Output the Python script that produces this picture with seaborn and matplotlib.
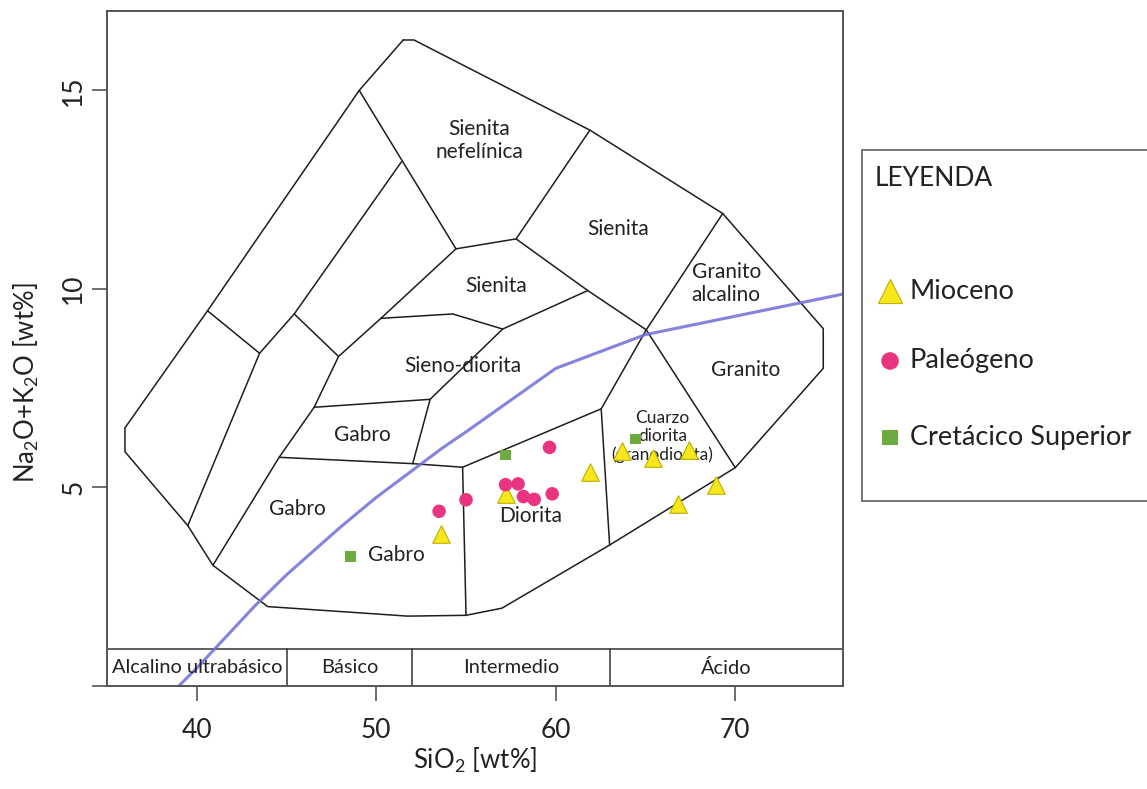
import matplotlib
matplotlib.use("Agg")
import matplotlib.pyplot as plt
import seaborn as sns
import pandas as pd

# puntos de muestras (SiO2, Na2O+K2O)
mioceno_x = [53.6, 57.2, 61.9, 63.7, 65.4, 67.4, 68.9, 66.8]
mioceno_y = [3.82, 4.84, 5.39, 5.92, 5.75, 5.95, 5.05, 4.59]
paleogeno_x = [53.5, 55.0, 57.2, 57.9, 58.2, 58.8, 59.8, 59.65]
paleogeno_y = [4.40, 4.69, 5.07, 5.09, 4.77, 4.70, 4.84, 6.01]
cretacico_x = [48.55, 57.2, 64.45]
cretacico_y = [3.26, 5.82, 6.22]

# linea alcalino / subalcalino (Irvine y Baragar)
ib_x = [39.0, 40.0, 43.2, 45.0, 48.0, 50.0, 53.7, 55.0, 60.0, 65.0, 76.0]
ib_y = [0.0, 0.45, 2.0, 2.8, 4.0, 4.75, 6.0, 6.4, 8.0, 8.85, 9.87]

outer = [(51.5, 16.27), (52.1, 16.27), (61.9, 14.0), (69.3, 11.9), (74.9, 9.0),
         (74.9, 8.0), (70.0, 5.5), (63.0, 3.55), (57.0, 1.96), (55.0, 1.78),
         (51.75, 1.76), (43.95, 2.0), (40.9, 3.04), (39.5, 4.04), (36.0, 5.9),
         (36.0, 6.5), (40.6, 9.45), (49.05, 15.0), (51.5, 16.27)]
inner_lines = [
    [(40.6, 9.45), (43.5, 8.38)],
    [(51.4, 13.2), (45.43, 9.37), (43.5, 8.38), (39.5, 4.04)],
    [(45.43, 9.37), (47.9, 8.3)],
    [(49.05, 15.0), (54.44, 11.01), (50.26, 9.26), (47.9, 8.3), (46.54, 7.02),
     (44.59, 5.76), (40.9, 3.04)],
    [(54.44, 11.01), (57.79, 11.26)],
    [(61.9, 14.0), (57.79, 11.26), (61.78, 9.96), (65.04, 8.97), (70.0, 5.5)],
    [(50.26, 9.26), (54.26, 9.37), (57.04, 8.99), (61.78, 9.96)],
    [(57.04, 8.99), (53.0, 7.22), (52.03, 5.6)],
    [(46.54, 7.02), (53.0, 7.22)],
    [(44.59, 5.76), (52.03, 5.6), (54.81, 5.51), (62.53, 6.98), (65.04, 8.97),
     (69.3, 11.9)],
    [(54.81, 5.51), (55.0, 1.78)],
    [(62.53, 6.98), (63.0, 3.55)],
]

field_names = ["Sienita\nnefelínica", "Sienita", "Sienita", "Granito\nalcalino",
               "Sieno-diorita", "Granito", "Gabro", "Gabro", "Diorita", "Gabro"]
field_x = [55.75, 63.45, 56.7, 69.5, 54.8, 70.6, 49.2, 45.6, 58.6, 51.1]
field_y = [13.73, 11.5, 10.08, 10.13, 8.05, 7.97, 6.31, 4.47, 4.27, 3.31]

band_edges = [45, 52, 63]
band_names = ["Alcalino ultrabásico", "Básico", "Intermedio", "Ácido"]
band_x = [40.0, 48.5, 57.5, 69.5]
band_top = 0.92

sns.set_style("white")
plt.rcParams['font.family'] = ['Lato', 'DejaVu Sans']
plt.rcParams['mathtext.default'] = 'regular'

fig = plt.figure(figsize=(11.47, 7.89), dpi=100)
ax = fig.add_axes([107 / 1147, 1 - 686 / 789, 736 / 1147, 675 / 789])

line_col = '#1e1e1e'
ax.plot([p[0] for p in outer], [p[1] for p in outer], color=line_col, lw=1.1)
for seg in inner_lines:
    ax.plot([p[0] for p in seg], [p[1] for p in seg], color=line_col, lw=1.1)

# franja de clasificacion
ax.axhline(band_top, color='#333333', lw=1.1)
for e in band_edges:
    ax.plot([e, e], [0, band_top], color='#333333', lw=1.1)
for name, bx in zip(band_names, band_x):
    ax.text(bx, band_top / 2, name, ha='center', va='center', fontsize=14.4, color='#222222')

# linea de Irvine y Baragar
ib = pd.DataFrame({'x': ib_x, 'y': ib_y})
sns.lineplot(data=ib, x='x', y='y', ax=ax, color='#6f6dd8', lw=2.2, alpha=0.85, sort=False)

# etiquetas de campos
for name, fx, fy in zip(field_names, field_x, field_y):
    ax.text(fx, fy, name, ha='center', va='center', fontsize=15, color='#222222',
            linespacing=1.2)
ax.text(65.95, 6.29, "Cuarzo\ndiorita\n(granodiorita)", ha='center', va='center',
        fontsize=12.5, color='#222222', linespacing=1.15)

# muestras
df = pd.concat([
    pd.DataFrame({'x': mioceno_x, 'y': mioceno_y, 'grupo': 'Mioceno'}),
    pd.DataFrame({'x': paleogeno_x, 'y': paleogeno_y, 'grupo': 'Paleógeno'}),
    pd.DataFrame({'x': cretacico_x, 'y': cretacico_y, 'grupo': 'Cretácico Superior'}),
])
estilos = {
    'Mioceno': dict(marker='^', s=160, color='#f6e81c', edgecolor='#c2ae00', linewidth=0.8),
    'Paleógeno': dict(marker='o', s=95, color='#e9357f', edgecolor='none', linewidth=0),
    'Cretácico Superior': dict(marker='s', s=60, color='#6dab3e', edgecolor='none', linewidth=0),
}
ley_s = {'Mioceno': 300, 'Paleógeno': 160, 'Cretácico Superior': 120}
for g, st in estilos.items():
    sns.scatterplot(data=df[df.grupo == g], x='x', y='y', ax=ax, legend=False,
                    zorder=5, **st)

ax.set_xlim(35, 76)
ax.set_ylim(0, 17)
ax.set_xticks([40, 50, 60, 70])
ax.set_yticks([0, 5, 10, 15])
ax.set_yticklabels(['', '5', '10', '15'], rotation=90, va='center')
ax.tick_params(bottom=True, left=True, direction='out', length=11, width=1.2,
               color='#555555', labelsize=19, labelcolor='#222222')
ax.tick_params(axis='x', pad=12)
ax.tick_params(axis='y', pad=4)
for sp in ax.spines.values():
    sp.set_color('#555555')
    sp.set_linewidth(1.4)
ax.set_xlabel('SiO$_2$ [wt%]', fontsize=18.5, color='#222222', labelpad=2)
ax.set_ylabel('Na$_2$O+K$_2$O [wt%]', fontsize=18.5, color='#222222')
ax.yaxis.set_label_coords(-0.09, 0.45)

# leyenda
lax = fig.add_axes([862 / 1147, 1 - 501 / 789, 338 / 1147, 351 / 789])
lax.set_xlim(0, 1)
lax.set_ylim(0, 1)
lax.set_xticks([])
lax.set_yticks([])
for sp in lax.spines.values():
    sp.set_color('#777777')
    sp.set_linewidth(1.4)
lax.text(0.038, 0.92, 'LEYENDA', ha='left', va='center', fontsize=19, color='#222222')
ley_y = [0.598, 0.399, 0.182]
for (g, st), ly in zip(estilos.items(), ley_y):
    lax.scatter([0.083], [ly], marker=st['marker'], s=ley_s[g], color=st['color'],
                edgecolor=st['edgecolor'], linewidth=st['linewidth'])
    lax.text(0.142, ly, g, ha='left', va='center', fontsize=19.5, color='#222222')

fig.savefig('out.png', dpi=100)
